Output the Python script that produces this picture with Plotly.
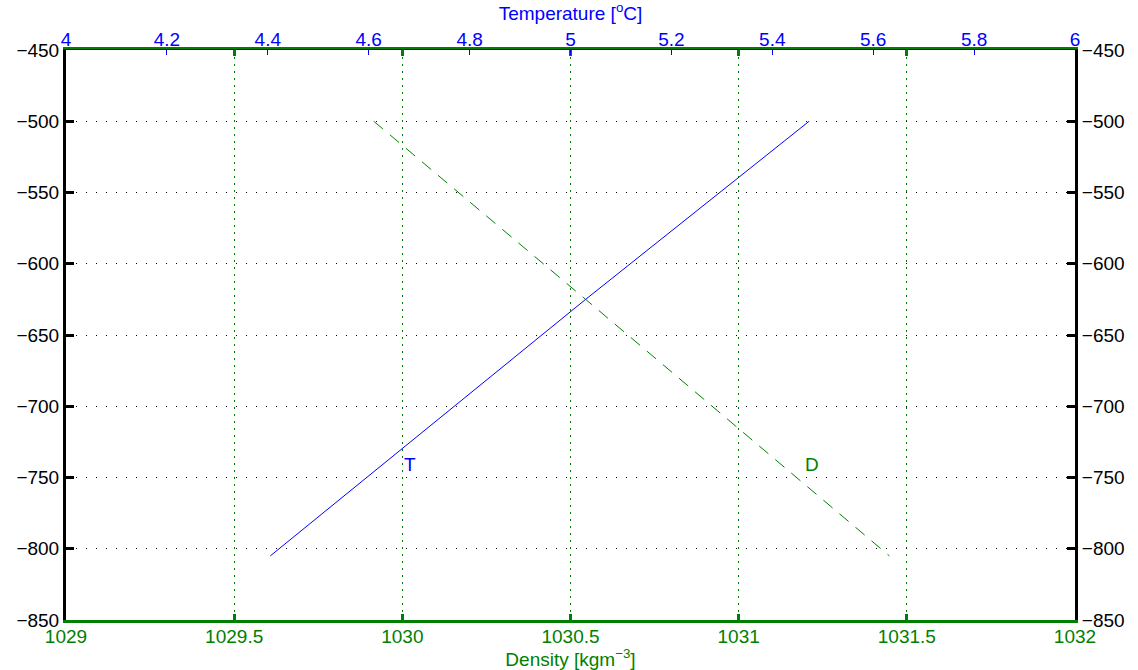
import plotly.graph_objects as go

# Profile readings: depth [m] vs temperature and density
depth_T = [-500, -625, -805]
temperature = [5.473, 5.03, 4.405]

depth_D = [-500, -625, -805]
density = [1029.915, 1030.545, 1031.448]

depth_ticks = [-450, -500, -550, -600, -650, -700, -750, -800, -850]
density_ticks = [1029, 1029.5, 1030, 1030.5, 1031, 1031.5, 1032]
temp_ticks = [4, 4.2, 4.4, 4.6, 4.8, 5, 5.2, 5.4, 5.6, 5.8, 6]

GREEN = "#008000"
BLUE = "#0000ff"
FONT = "Liberation Sans, Arial, Helvetica, sans-serif"
FS = 19

fig = go.Figure()

fig.add_trace(go.Scatter(
    x=density, y=depth_D, xaxis="x", yaxis="y", mode="lines",
    line=dict(color=GREEN, width=1, dash="12px,9px"), showlegend=False,
    hoverinfo="skip"))
fig.add_trace(go.Scatter(
    x=temperature, y=depth_T, xaxis="x2", yaxis="y", mode="lines",
    line=dict(color=BLUE, width=1), showlegend=False, hoverinfo="skip"))
# invisible trace so the right-hand depth axis is drawn
fig.add_trace(go.Scatter(
    x=[density_ticks[0]], y=[depth_ticks[0]], xaxis="x", yaxis="y2",
    mode="markers", marker=dict(opacity=0), showlegend=False,
    hoverinfo="skip"))

fig.update_layout(
    width=1138, height=670,
    margin=dict(l=66, r=63, t=50, b=50, autoexpand=False),
    paper_bgcolor="white", plot_bgcolor="white",
    font=dict(family=FONT, size=FS, color="black"),
    xaxis=dict(
        range=[density_ticks[0], density_ticks[-1]], automargin=False,
        tickvals=density_ticks, ticktext=[f"{v:g}" for v in density_ticks],
        ticks="inside", ticklen=6, tickwidth=3, tickcolor=GREEN,
        tickfont=dict(color=GREEN, size=FS), ticklabelstandoff=-3,
        showline=True, linecolor=GREEN, linewidth=3, mirror="ticks",
        showgrid=True, gridcolor=GREEN, gridwidth=1, griddash="2px,5px",
        zeroline=False,
        title=dict(text="Density [kgm<sup>\u22123</sup>]",
                   font=dict(color=GREEN, size=FS), standoff=2),
    ),
    xaxis2=dict(
        range=[temp_ticks[0], temp_ticks[-1]], overlaying="x", side="top",
        anchor="y", automargin=False,
        tickvals=temp_ticks, ticktext=[f"{v:g}" for v in temp_ticks],
        ticks="inside", ticklen=5, tickwidth=1, tickcolor=BLUE,
        tickfont=dict(color=BLUE, size=FS), ticklabelstandoff=-5,
        showline=True, linecolor=BLUE, linewidth=1,
        showgrid=False, zeroline=False,
        title=dict(text="Temperature [<sup>o</sup>C]",
                   font=dict(color=BLUE, size=FS), standoff=4),
    ),
    yaxis=dict(
        range=[depth_ticks[-1], depth_ticks[0]], automargin=False,
        tickvals=depth_ticks,
        ticks="inside", ticklen=8, tickwidth=3, tickcolor="black",
        showline=True, linecolor="black", linewidth=3, mirror="ticks",
        showgrid=True, gridcolor="black", gridwidth=1, griddash="1px,9px",
        zeroline=False,
    ),
    yaxis2=dict(
        range=[depth_ticks[-1], depth_ticks[0]], overlaying="y", side="right",
        anchor="x", automargin=False,
        tickvals=depth_ticks,
        ticks="inside", ticklen=8, tickwidth=3, tickcolor="black",
        showline=True, linecolor="black", linewidth=3,
        showgrid=False, zeroline=False,
    ),
    annotations=[
        dict(x=4.666, y=-741, xref="x2", yref="y", text="T", showarrow=False,
             xanchor="left", yanchor="middle", font=dict(color=BLUE, size=FS)),
        dict(x=1031.19, y=-741, xref="x", yref="y", text="D", showarrow=False,
             xanchor="left", yanchor="middle", font=dict(color=GREEN, size=FS)),
    ],
)

fig.write_html("out.html")
